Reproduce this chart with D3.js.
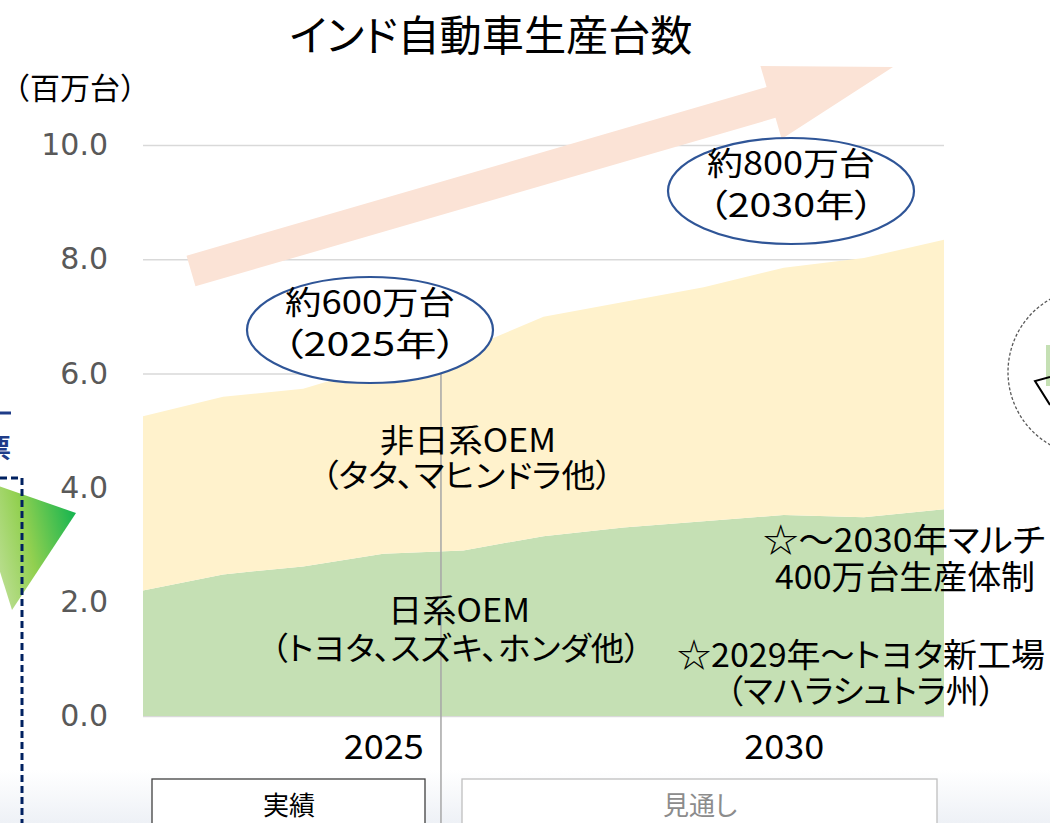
<!DOCTYPE html>
<html><head><meta charset="utf-8">
<script src="https://cdn.jsdelivr.net/npm/d3@7/dist/d3.min.js"></script>
<style>
html,body{margin:0;padding:0;background:#fff;overflow:hidden;}
svg{display:block;font-family:"Noto Sans CJK JP","Noto Sans",sans-serif;font-feature-settings:"palt";}
</style></head>
<body><svg id="c" width="1050" height="823"></svg>
<script>
// ---- data ----
const years = [2022, 2023, 2024, 2025, 2026, 2027, 2028, 2029, 2030, 2031, 2032];
const japaneseOEM = [2.20, 2.48, 2.62, 2.84, 2.90, 3.15, 3.30, 3.41, 3.52, 3.48, 3.62];
const nonJapaneseOEM = [3.05, 3.11, 3.11, 3.31, 3.50, 3.84, 3.95, 4.10, 4.33, 4.54, 4.72];
const yTicks = [0, 2, 4, 6, 8, 10];
const xTicks = [2025, 2030];
const dividerYear = 2025.72;
const title = "インド自動車生産台数";
const unitLabel = "（百万台）";

const svg = d3.select("#c");
const x = d3.scaleLinear().domain([2022, 2032]).range([143, 944]);
const y = d3.scaleLinear().domain([0, 10]).range([716, 145]);

const defs = svg.append("defs");
const bg = defs.append("linearGradient").attr("id","bg").attr("x1",0).attr("x2",0).attr("y1",0).attr("y2",1);
bg.append("stop").attr("offset","0%").attr("stop-color","#ffffff");
bg.append("stop").attr("offset","100%").attr("stop-color","#eef1f6");
const tg = defs.append("linearGradient").attr("id","tg").attr("x1",0).attr("x2",1).attr("y1",0.3).attr("y2",0);
tg.append("stop").attr("offset","0%").attr("stop-color","#c9e3a8");
tg.append("stop").attr("offset","45%").attr("stop-color","#92d050");
tg.append("stop").attr("offset","100%").attr("stop-color","#00b050");

svg.append("rect").attr("x",0).attr("y",770).attr("width",1050).attr("height",53).attr("fill","url(#bg)");

// gridlines
const grid = svg.append("g").attr("transform",`translate(${x(2022)},0)`)
  .call(d3.axisLeft(y).tickValues(yTicks).tickSize(-(x(2032)-x(2022))).tickFormat(""));
grid.select(".domain").remove();
grid.selectAll("line").attr("stroke","#d9d9d9").attr("stroke-width",1.5);

// stacked areas
const table = years.map((yr,i)=>({year:yr, jp:japaneseOEM[i], nonjp:nonJapaneseOEM[i]}));
const stack = d3.stack().keys(["jp","nonjp"])(table);
const colors = {jp:"#c5e0b4", nonjp:"#fff2cc"};
const area = d3.area().x(d=>x(d.data.year)).y0(d=>y(d[0])).y1(d=>y(d[1]));
svg.append("g").selectAll("path").data(stack).join("path")
  .attr("d",area).attr("fill",d=>colors[d.key]);

// y axis labels
const ya = svg.append("g").attr("transform","translate(110,0)")
  .call(d3.axisLeft(y).tickValues(yTicks).tickSize(0).tickPadding(2).tickFormat(d3.format(".1f")));
ya.select(".domain").remove();
ya.selectAll("text").attr("fill","#595959").attr("font-size",30)
  .attr("font-family","'DejaVu Sans',sans-serif").style("font-feature-settings","normal");

// x axis labels
const xa = svg.append("g").attr("transform",`translate(0,${y(0)})`)
  .call(d3.axisBottom(x).tickValues(xTicks).tickSize(0).tickPadding(19).tickFormat(d3.format("d")));
xa.select(".domain").remove();
xa.selectAll("text").attr("fill","#000").attr("font-size",34).attr("font-family","'Noto Sans CJK JP',sans-serif")
  .attr("textLength",80).attr("lengthAdjust","spacingAndGlyphs");

// divider
svg.append("line").attr("x1",x(dividerYear)).attr("x2",x(dividerYear)).attr("y1",368).attr("y2",823)
  .attr("stroke","#a6a6a6").attr("stroke-width",1.5);

// big arrow
(function(){
  const tail=[191,271], tip=[893,67];
  const dx=tip[0]-tail[0], dy=tip[1]-tail[1], L=Math.hypot(dx,dy);
  const u=[dx/L,dy/L], n=[-u[1],u[0]];
  const hw=16, hl=127, hh=38;
  const b=[tip[0]-u[0]*hl, tip[1]-u[1]*hl];
  const p=(c,k)=>[c[0]+n[0]*k, c[1]+n[1]*k];
  const pts=[p(tail,hw),p(b,hw),p(b,hh),tip,p(b,-hh),p(b,-hw),p(tail,-hw)];
  svg.append("polygon").attr("points",pts.map(q=>q.join(",")).join(" ")).attr("fill","#fbe3d6");
})();

function lbl(cx,yy,t,fs,w,fill){
  const e = svg.append("text").attr("x",cx).attr("y",yy).attr("text-anchor","middle")
    .attr("font-size",fs).attr("fill",fill||"#000").text(t);
  if(w) e.attr("textLength",w).attr("lengthAdjust","spacingAndGlyphs");
  return e;
}

// title & unit
lbl(491,51,title,42,403);
svg.append("text").attr("x",0).attr("y",99).attr("font-size",30).style("font-feature-settings","normal").text(unitLabel);

// ellipses
function bubble(cx,cy,l1,w1,l2,w2){
  svg.append("ellipse").attr("cx",cx).attr("cy",cy).attr("rx",123).attr("ry",53)
    .attr("fill","#fff").attr("stroke","#2f5597").attr("stroke-width",2.2);
  lbl(cx,cy-16,l1,32,w1);
  lbl(cx,cy+26,l2,32,w2);
}
bubble(370,330,"約600万台",170,"（2025年）",174);
bubble(791,191,"約800万台",168,"（2030年）",166);

// labels
lbl(468,452,"非日系OEM",32,176);
lbl(467,487,"（タタ、マヒンドラ他）",32,291);
lbl(459,622,"日系OEM",32,142);
lbl(456,660,"（トヨタ、スズキ、ホンダ他）",32,370);
lbl(904,552,"☆～2030年マルチ",33,282);
lbl(905,589,"400万台生産体制",33,260);
lbl(861,667,"☆2029年～トヨタ新工場",33,368);
lbl(861,703,"（マハラシュトラ州）",33,269);

// bottom boxes
svg.append("rect").attr("x",152).attr("y",779).attr("width",273).attr("height",60).attr("fill","#fff").attr("stroke","#404040").attr("stroke-width",1.3);
lbl(289,815,"実績",26);
svg.append("rect").attr("x",462).attr("y",779).attr("width",475).attr("height",60).attr("fill","#fff").attr("stroke","#bfbfbf").attr("stroke-width",1.3);
lbl(700,815,"見通し",26,null,"#8c8c8c");

// left partial decorations
svg.append("polygon").attr("points","-30,476 76,513 12,610").attr("fill","url(#tg)");
svg.append("path").attr("d","M0,478 H22 V823").attr("fill","none").attr("stroke","#002060").attr("stroke-width",3).attr("stroke-dasharray","7,4");
svg.append("line").attr("x1",0).attr("x2",11).attr("y1",413).attr("y2",413).attr("stroke","#1f3c88").attr("stroke-width",3);
svg.append("text").attr("x",-15).attr("y",458).attr("font-size",26).attr("font-weight","bold").attr("fill","#1f3c88").text("票");

// right partial decorations
svg.append("circle").attr("cx",1092).attr("cy",372).attr("r",84).attr("fill","none").attr("stroke","#595959").attr("stroke-width",1.3).attr("stroke-dasharray","3,2");
svg.append("rect").attr("x",1046).attr("y",345).attr("width",6).attr("height",41).attr("fill","#c5e0b4");
svg.append("polyline").attr("points","1050,377 1035,381 1050,405").attr("fill","none").attr("stroke","#000").attr("stroke-width",2);
</script></body></html>
